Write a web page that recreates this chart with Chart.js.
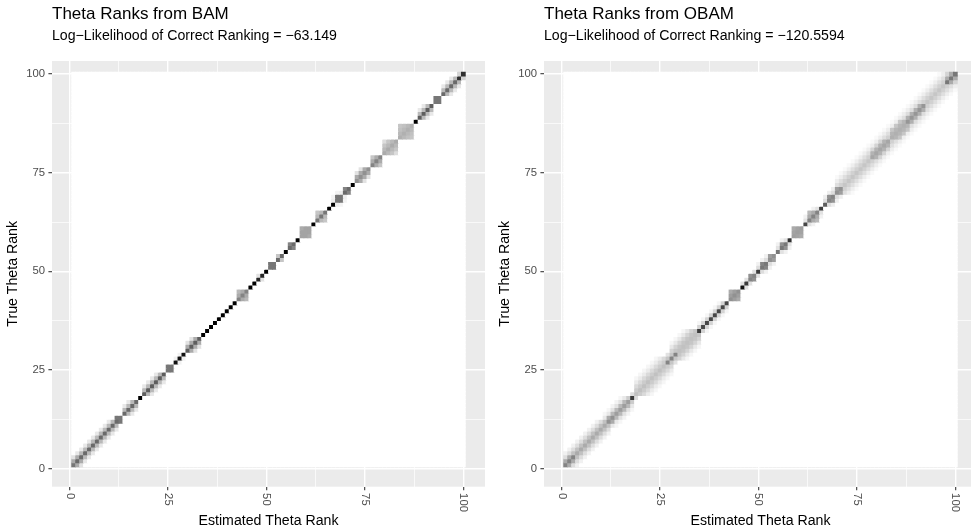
<!DOCTYPE html>
<html>
<head>
<meta charset="utf-8">
<title>Theta Ranks</title>
<script src="https://cdn.jsdelivr.net/npm/chart.js@4.4.1/dist/chart.umd.min.js"></script>
<style>
  html, body { margin: 0; padding: 0; background: #ffffff; overflow: hidden; }
  #wrap { position: relative; width: 971px; height: 532px; overflow: hidden; }
  .panel { position: absolute; top: 0; width: 490px; height: 532px; }
</style>
</head>
<body>
<div id="wrap">
  <div class="panel" style="left:0px"><canvas id="bamChart" width="490" height="532"></canvas></div>
  <div class="panel" style="left:492px"><canvas id="obamChart" width="490" height="532"></canvas></div>
</div>
<script>
// Number of ranks on each axis
const nRanks = 100;

// Axis ticks (labelled) and grid positions (major + minor)
const tickLabels = [0, 25, 50, 75, 100];
const gridValues = [0, 12.5, 25, 37.5, 50, 62.5, 75, 87.5, 100];

// Panel titles
const bamTitle = 'Theta Ranks from BAM';
const bamSubtitle = 'Log\u2212Likelihood of Correct Ranking = \u221263.149';
const obamTitle = 'Theta Ranks from OBAM';
const obamSubtitle = 'Log\u2212Likelihood of Correct Ranking = \u2212120.5594';

// Probability blocks read along the diagonal:
// [first rank, last rank, [p on diagonal, p one off, p two off, ...]]
const bamSegments = [
  [1, 3, [0.5, 0.3, 0.1]],
  [2, 12, [0.55, 0.25, 0.08]],
  [12, 13, [0.5, 0.5]],
  [14, 17, [0.55, 0.25, 0.08]],
  [18, 18, [1]],
  [19, 24, [0.6, 0.25, 0.08]],
  [25, 26, [0.5, 0.5]],
  [27, 29, [0.95, 0.05]],
  [30, 33, [0.6, 0.3, 0.1]],
  [34, 42, [1]],
  [43, 45, [0.45, 0.3, 0.25]],
  [46, 47, [1]],
  [48, 49, [0.85, 0.1]],
  [50, 50, [1]],
  [51, 52, [0.5, 0.5]],
  [53, 54, [0.55, 0.2]],
  [55, 55, [1]],
  [56, 57, [0.55, 0.45]],
  [58, 58, [1]],
  [59, 61, [0.33, 0.33, 0.3]],
  [62, 62, [1]],
  [63, 65, [0.5, 0.25, 0.2]],
  [66, 67, [1]],
  [68, 69, [0.5, 0.5]],
  [67, 70, [0, 0.06, 0.04]],
  [70, 71, [0.55, 0.45]],
  [72, 72, [1]],
  [73, 76, [0.4, 0.3, 0.1]],
  [77, 79, [0.45, 0.3, 0.2]],
  [80, 83, [0.3, 0.25, 0.2, 0.12]],
  [84, 87, [0.28, 0.25, 0.22, 0.2]],
  [88, 88, [1]],
  [89, 92, [0.6, 0.25, 0.08]],
  [93, 94, [0.5, 0.5]],
  [95, 99, [0.55, 0.25, 0.08]],
  [99, 100, [0.8, 0.15]]
];

const obamSegments = [
  [1, 3, [0.45, 0.3, 0.12, 0.05]],
  [1, 12, [0.3, 0.22, 0.12, 0.05]],
  [11, 18, [0, 0.18, 0.08, 0.03]],
  [12, 13, [0.4, 0.3]],
  [13, 17, [0.35, 0.25, 0.1, 0.04]],
  [18, 18, [0.75]],
  [17, 19, [0, 0.12]],
  [19, 28, [0.22, 0.18, 0.13, 0.07, 0.03]],
  [27, 29, [0.45, 0.2, 0.1]],
  [28, 35, [0.22, 0.2, 0.15, 0.08, 0.03]],
  [35, 35, [0.75]],
  [35, 42, [0.7, 0.15, 0.03]],
  [43, 45, [0.4, 0.35, 0.3]],
  [46, 46, [0.95]],
  [47, 47, [0.75]],
  [46, 50, [0, 0.1]],
  [48, 49, [0.45, 0.4]],
  [50, 50, [0.75]],
  [51, 52, [0.5, 0.45]],
  [50, 54, [0, 0.12, 0.05]],
  [53, 54, [0.4, 0.35]],
  [55, 55, [0.5]],
  [56, 57, [0.5, 0.4]],
  [55, 58, [0, 0.1, 0.05]],
  [58, 58, [0.8]],
  [59, 61, [0.35, 0.33, 0.3]],
  [62, 62, [0.7]],
  [63, 65, [0.45, 0.3, 0.25]],
  [62, 66, [0, 0.1, 0.05]],
  [66, 66, [0.75]],
  [67, 67, [0.6]],
  [68, 69, [0.45, 0.4]],
  [70, 71, [0.4, 0.35]],
  [67, 72, [0, 0.12, 0.06]],
  [70, 100, [0.2, 0.16, 0.11, 0.06, 0.02]],
  [79, 83, [0.32, 0.27, 0.15]],
  [84, 88, [0.28, 0.26, 0.2]],
  [88, 92, [0.38, 0.28, 0.12]],
  [98, 100, [0.5, 0.3, 0.15]]
];

const FONT = '"Liberation Sans", Arial, Helvetica, sans-serif';

// Function to turn a probability into a white->black fill (Lab lightness)
function shade(p) {
  var L = 100 * (1 - p);
  var Y = L > 8 ? Math.pow((L + 16) / 116, 3) : L / 903.3;
  var c = Y <= 0.0031308 ? 12.92 * Y : 1.055 * Math.pow(Y, 1 / 2.4) - 0.055;
  var g = Math.round(255 * c);
  return 'rgb(' + g + ',' + g + ',' + g + ')';
}

// Function to build one tile per (estimated, true) rank pair
function buildCells(segments) {
  var cells = [];
  for (var t = 1; t <= nRanks; t++) {
    for (var e = 1; e <= nRanks; e++) {
      var p = 0;
      var d = Math.abs(t - e);
      segments.forEach(function (s) {
        if (t >= s[0] && t <= s[1] && e >= s[0] && e <= s[1] && d < s[2].length) {
          p = Math.max(p, s[2][d]);
        }
      });
      cells.push({ x: e, y: [t - 0.5, t + 0.5], p: p });
    }
  }
  return cells;
}

function isMajor(v) {
  return tickLabels.indexOf(v) !== -1;
}

// Grey panel background behind the tiles
const panelBackground = {
  id: 'panelBackground',
  beforeDraw(chart) {
    const ctx = chart.ctx, a = chart.chartArea;
    ctx.save();
    ctx.fillStyle = '#ffffff';
    ctx.fillRect(0, 0, chart.width, chart.height);
    ctx.fillStyle = '#EBEBEB';
    ctx.fillRect(a.left, a.top, a.right - a.left, a.bottom - a.top);
    ctx.restore();
  }
};

// x tick labels turned to read top to bottom
const xTickText = {
  id: 'xTickText',
  afterDraw(chart) {
    const ctx = chart.ctx, xs = chart.scales.x;
    ctx.save();
    ctx.font = '11.3px ' + FONT;
    ctx.fillStyle = '#4D4D4D';
    ctx.textAlign = 'left';
    ctx.textBaseline = 'middle';
    tickLabels.forEach(function (v) {
      ctx.save();
      ctx.translate(xs.getPixelForValue(v), chart.chartArea.bottom + 3.6 + 2.8);
      ctx.rotate(Math.PI / 2);
      ctx.fillText(String(v), 0, 0);
      ctx.restore();
    });
    ctx.restore();
  }
};

function gridOptions() {
  return {
    color: '#ffffff',
    lineWidth: c => (c.tick && isMajor(c.tick.value)) ? 1.4 : 0.7,
    drawTicks: true,
    tickLength: 3.6,
    tickWidth: 1.07,
    tickColor: c => (c.tick && isMajor(c.tick.value)) ? '#333333' : 'rgba(0,0,0,0)',
    offset: false
  };
}

function makeChart(id, title, subtitle, segments) {
  const cells = buildCells(segments);
  return new Chart(document.getElementById(id), {
    type: 'bar',
    data: {
      datasets: [{
        data: cells,
        backgroundColor: cells.map(c => shade(c.p)),
        borderWidth: 0,
        inflateAmount: 0.4,
        barPercentage: 1,
        categoryPercentage: 1
      }]
    },
    options: {
      responsive: false,
      animation: false,
      events: [],
      layout: { padding: { left: 0, right: 5, top: 0, bottom: 0 } },
      plugins: {
        legend: { display: false },
        tooltip: { enabled: false },
        title: {
          display: true, text: title, align: 'start', fullSize: false, color: '#000000',
          font: { family: FONT, size: 17, weight: 'normal', lineHeight: 1.2 },
          padding: { top: 4.6, bottom: 0 }
        },
        subtitle: {
          display: true, text: subtitle, align: 'start', fullSize: false, color: '#000000',
          font: { family: FONT, size: 14.15, weight: 'normal', lineHeight: 1.2 },
          padding: { top: 2.3, bottom: 16.7 }
        }
      },
      scales: {
        x: {
          type: 'linear',
          min: -4.5,
          max: 105.5,
          offset: false,
          afterBuildTicks: s => { s.ticks = gridValues.map(v => ({ value: v })); },
          afterFit: s => { s.height = 45.3; },
          grid: gridOptions(),
          border: { display: false },
          ticks: { display: false },
          title: {
            display: true, text: 'Estimated Theta Rank', color: '#000000',
            font: { family: FONT, size: 14.15, lineHeight: 1.2 },
            padding: { top: 0, bottom: 2.4 }
          }
        },
        y: {
          type: 'linear',
          min: -4.56,
          max: 103.3,
          afterBuildTicks: s => { s.ticks = gridValues.map(v => ({ value: v })); },
          afterFit: s => { s.width = 52; },
          grid: gridOptions(),
          border: { display: false },
          ticks: {
            color: '#4D4D4D',
            padding: 3.4,
            font: { family: FONT, size: 11.3 },
            callback: v => isMajor(v) ? String(v) : ''
          },
          title: {
            display: true, text: 'True Theta Rank', color: '#000000',
            font: { family: FONT, size: 14.15, lineHeight: 1.2 },
            padding: { top: 4.6, bottom: 0 }
          }
        }
      }
    },
    plugins: [panelBackground, xTickText]
  });
}

makeChart('bamChart', bamTitle, bamSubtitle, bamSegments);
makeChart('obamChart', obamTitle, obamSubtitle, obamSegments);
</script>
</body>
</html>
